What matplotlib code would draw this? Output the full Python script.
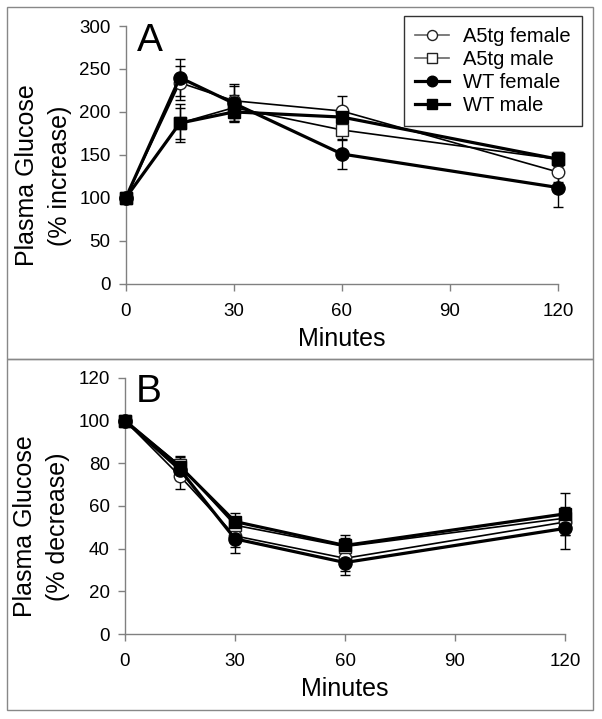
import numpy as np
import matplotlib
matplotlib.use("Agg")
import matplotlib.pyplot as plt
from matplotlib.patches import Rectangle
from matplotlib.lines import Line2D

plt.rcParams['font.family'] = ['Liberation Sans', 'DejaVu Sans']

minutes = [0, 15, 30, 60, 120]
groups = ["A5tg female", "A5tg male", "WT female", "WT male"]

# panel A: % increase
a5f_inc = [100, 234, 213, 201, 130]
a5m_inc = [100, 187, 205, 179, 145]
wtf_inc = [100, 240, 210, 151, 112]
wtm_inc = [100, 187, 200, 194, 145]
a5f_inc_err = [0, 20, 20, 17, 12]
a5m_inc_err = [0, 18, 15, 12, 8]
wtf_inc_err = [0, 22, 20, 17, 23]
wtm_inc_err = [0, 22, 12, 10, 8]

# panel B: % decrease
a5f_dec = [100, 74, 46, 35.5, 52.5]
a5m_dec = [100, 79, 51, 41, 54.3]
wtf_dec = [100, 77, 44.6, 33.5, 49.5]
wtm_dec = [100, 78.5, 52.7, 41.5, 56.3]
a5f_dec_err = [0, 6, 5, 6, 6]
a5m_dec_err = [0, 4, 4, 4, 5]
wtf_dec_err = [0, 5, 6.5, 6, 9.5]
wtm_dec_err = [0, 5, 4, 5, 10]

styles = [
  dict(marker='o', mfc='white', mec='#222222', ms=9, lw=1.2, mew=1.0),
  dict(marker='s', mfc='white', mec='#222222', ms=9, lw=1.2, mew=1.0),
  dict(marker='o', mfc='black', mec='black', ms=9.5, lw=2.3, mew=1.0),
  dict(marker='s', mfc='black', mec='black', ms=9, lw=2.3, mew=1.0),
]


def style_axes(ax, ymax, ystep, ylabel, letter):
  ax.set_xlim(0, 120)
  ax.set_ylim(0, ymax)
  ax.set_xticks([0, 30, 60, 90, 120])
  ax.set_yticks(np.arange(0, ymax + 1, ystep))
  for s in ['top', 'right']:
    ax.spines[s].set_visible(False)
  for s in ['left', 'bottom']:
    ax.spines[s].set_color('#808080')
    ax.spines[s].set_linewidth(1.0)
  ax.tick_params(axis='both', direction='out', length=5, width=1,
                 color='#808080', labelsize=13.5)
  ax.tick_params(axis='y', pad=6)
  ax.tick_params(axis='x', pad=9)
  ax.set_xlabel("Minutes", fontsize=18, labelpad=5)
  ax.set_ylabel(ylabel, fontsize=18, linespacing=1.45)
  ax.yaxis.set_label_coords(-0.125, 0.42)
  ax.text(0.025, 0.905, letter, transform=ax.transAxes, fontsize=28,
          va='baseline', ha='left')


def draw(ax, series, errs):
  for y, e, st in zip(series, errs, styles):
    ax.errorbar(minutes, y, yerr=e, color='black', ecolor='black',
                elinewidth=1.0, capsize=3.5, capthick=1.0,
                clip_on=False, zorder=3, **st)


fig = plt.figure(figsize=(6.02, 7.19), dpi=100)

# panel borders
for y0, h in [(0.5007, 0.4896), (0.0125, 0.4882)]:
  fig.patches.append(Rectangle((0.0116, y0), 0.9734, h, transform=fig.transFigure,
                               fill=False, edgecolor='#888888', lw=1.0))

axA = fig.add_axes([0.209, 0.6054, 0.718, 0.3584])
axB = fig.add_axes([0.2076, 0.1182, 0.731, 0.3561])

draw(axA, [a5f_inc, a5m_inc, wtf_inc, wtm_inc],
     [a5f_inc_err, a5m_inc_err, wtf_inc_err, wtm_inc_err])
style_axes(axA, 300, 50, "Plasma Glucose\n(% increase)", "A")

draw(axB, [a5f_dec, a5m_dec, wtf_dec, wtm_dec],
     [a5f_dec_err, a5m_dec_err, wtf_dec_err, wtm_dec_err])
style_axes(axB, 120, 20, "Plasma Glucose\n(% decrease)", "B")

# legend handles without the error bars
line_colors = ['#666666', '#666666', 'black', 'black']
handles = []
for st, lc in zip(styles, line_colors):
  h = dict(st)
  h['ms'] = st['ms'] * 0.8
  handles.append(Line2D([], [], color=lc, **h))
leg = axA.legend(handles, groups, loc='upper right', bbox_to_anchor=(1.055, 1.039),
                 borderaxespad=0, fontsize=14.5, frameon=True, fancybox=False,
                 edgecolor='black', labelspacing=0.2, handlelength=1.7,
                 handletextpad=0.7, borderpad=0.55)
leg.get_frame().set_linewidth(1.0)

fig.savefig("out.png", dpi=100)
